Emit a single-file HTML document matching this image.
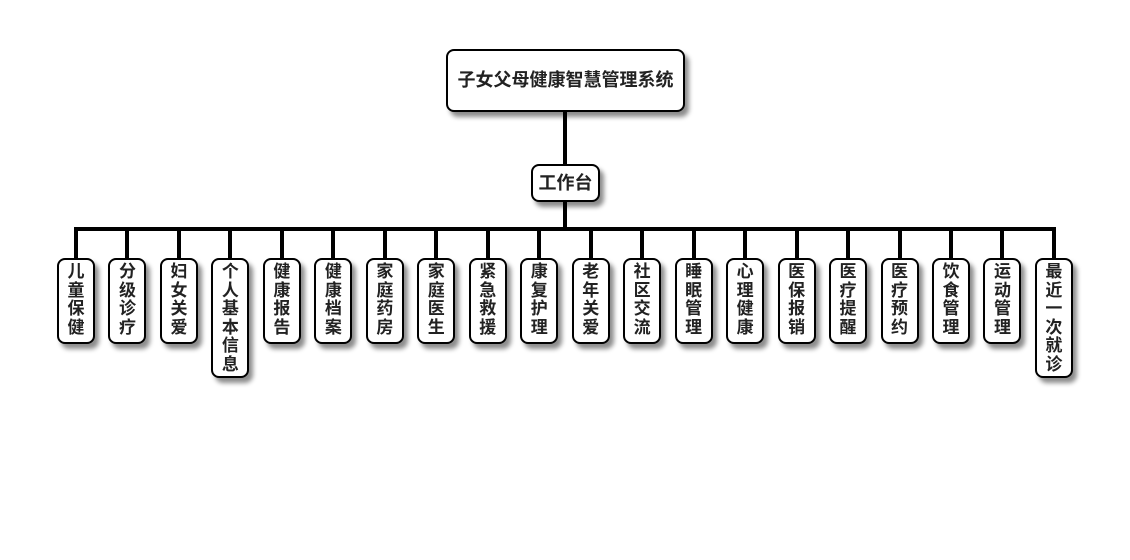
<!DOCTYPE html>
<html><head><meta charset="utf-8"><style>
body{margin:0;width:1130px;height:560px;background:#fff;position:relative;overflow:hidden;font-family:"Liberation Sans","Noto Sans CJK SC",sans-serif;font-weight:bold;color:#222}
.b{position:absolute;box-sizing:border-box;border:2px solid #000;border-radius:8px;background:#fff;box-shadow:4px 5px 5px rgba(0,0,0,0.45);text-align:center}
.l{position:absolute;background:#000}
.c{width:38px;top:258px;font-size:17px;line-height:18.5px;padding-top:3px}
</style></head><body>
<div class="l" style="left:563px;top:110px;width:4px;height:56px"></div>
<div class="l" style="left:563px;top:200px;width:4px;height:30px"></div>
<div class="l" style="left:74px;top:227px;width:982px;height:4px"></div>
<div class="b" style="left:446px;top:49px;width:239px;height:63px;line-height:59px;font-size:18px">子女父母健康智慧管理系统</div>
<div class="b" style="left:531px;top:164px;width:69px;height:38px;line-height:34px;font-size:18px">工作台</div>
<div id="kids"></div>
<script>
var n=["儿童保健","分级诊疗","妇女关爱","个人基本信息","健康报告","健康档案","家庭药房","家庭医生","紧急救援","康复护理","老年关爱","社区交流","睡眠管理","心理健康","医保报销","医疗提醒","医疗预约","饮食管理","运动管理","最近一次就诊"];
var h="";
for(var i=0;i<20;i++){var cx=76+i*51.47;var tall=n[i].length>4;
h+='<div class="l" style="left:'+(cx-2)+'px;top:229px;width:4px;height:30px"></div>';
h+='<div class="b c" style="left:'+(cx-19)+'px;height:'+(tall?120:86)+'px">'+n[i].split("").join("<br>")+'</div>';}
document.getElementById("kids").innerHTML=h;
</script>
</body></html>
